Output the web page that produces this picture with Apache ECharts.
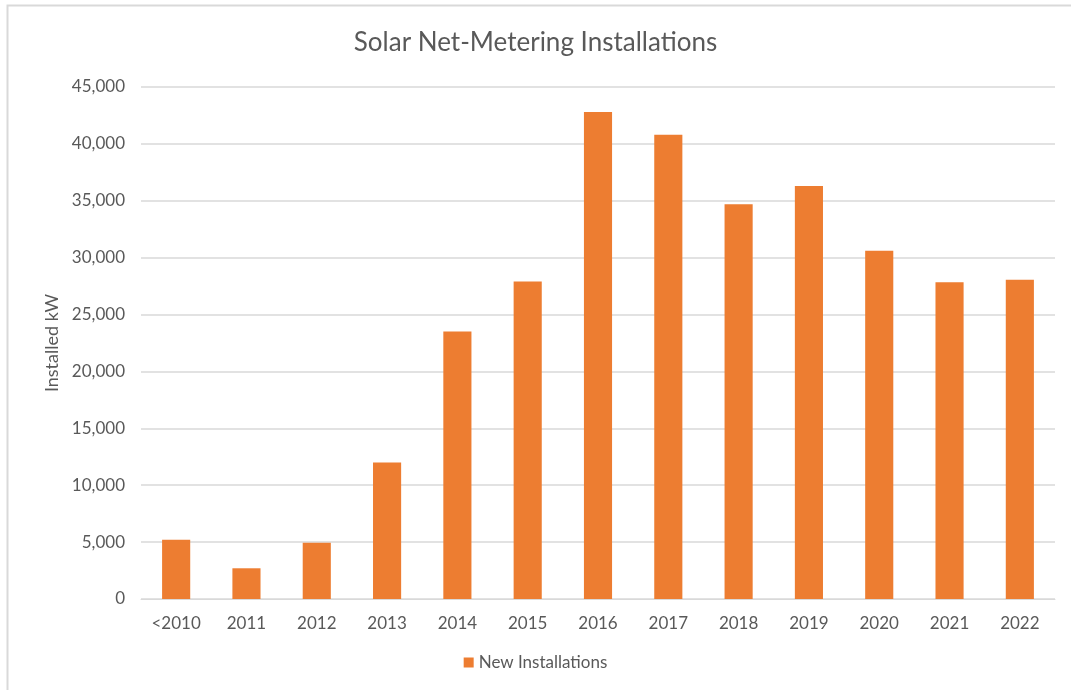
<!DOCTYPE html>
<html lang="en">
<head>
    <meta charset="UTF-8">
    <script src="https://cdn.jsdelivr.net/npm/echarts@6/dist/echarts.min.js"></script>
    <title>Solar Net-Metering Installations</title>
    <style>
        html, body { margin: 0; padding: 0; background: #fff; }
    </style>
</head>
<body>
    <div id="main" style="width: 1071px;height:690px;"></div>
<script type="text/javascript">
    // data
    var years = ['<2010', '2011', '2012', '2013', '2014', '2015', '2016', '2017', '2018', '2019', '2020', '2021', '2022'];
    var newInstalls = [5200, 2700, 4950, 12000, 23500, 27900, 42800, 40800, 34700, 36300, 30600, 27850, 28050];
    var seriesName = 'New Installations';

    var chart = echarts.init(document.getElementById('main'));
    var font = 'Lato, "Open Sans", sans-serif';

    var option = {
        backgroundColor: '#fff',
        animation: false,
        graphic: [{
            type: 'rect',
            shape: { x: 7.5, y: 5.5, width: 1080, height: 700 },
            style: { fill: 'none', stroke: '#d9d9d9', lineWidth: 2 },
            silent: true
        }],
        title: {
            text: 'Solar Net-Metering Installations',
            left: 'center',
            top: 25,
            textStyle: { color: '#595959', fontSize: 26, fontWeight: 'normal', fontFamily: font }
        },
        legend: {
            bottom: 14,
            left: 'center',
            icon: 'rect',
            itemWidth: 10,
            itemHeight: 10,
            itemGap: 5,
            data: [seriesName],
            textStyle: { color: '#595959', fontSize: 17, fontFamily: font }
        },
        grid: { left: 141, right: 16, top: 87, bottom: 91 },
        xAxis: {
            type: 'category',
            data: years,
            axisTick: { show: false },
            axisLine: { lineStyle: { color: '#d9d9d9', width: 1 } },
            axisLabel: { color: '#595959', fontSize: 17, fontFamily: font, margin: 16 }
        },
        yAxis: {
            type: 'value',
            min: 0,
            max: 45000,
            interval: 5000,
            name: 'Installed kW',
            nameLocation: 'middle',
            nameGap: 78,
            nameTextStyle: { color: '#595959', fontSize: 18, fontFamily: font },
            axisLine: { show: false },
            axisTick: { show: false },
            splitLine: { lineStyle: { color: '#d9d9d9', width: 1.5 } },
            axisLabel: {
                color: '#595959', fontSize: 17, fontFamily: font, margin: 16,
                formatter: function (v) { return v.toLocaleString('en-US'); }
            }
        },
        series: [{
            name: seriesName,
            type: 'bar',
            data: newInstalls,
            barWidth: '40%',
            itemStyle: { color: '#ed7d31' }
        }]
    };

    chart.setOption(option);
</script>
</body>
</html>
